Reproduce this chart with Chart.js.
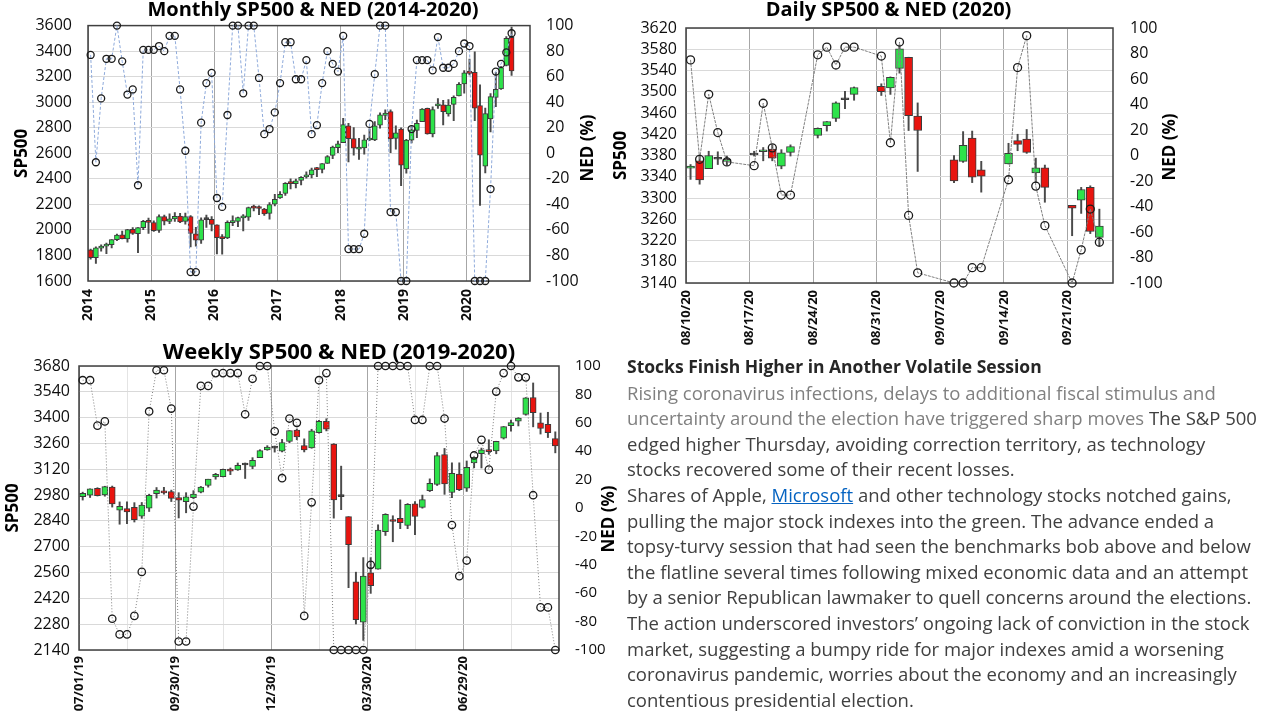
<!DOCTYPE html>
<html>
<head>
<meta charset="utf-8">
<title>SP500 &amp; NED</title>
<script src="https://cdn.jsdelivr.net/npm/chart.js@4.4.1/dist/chart.umd.min.js"></script>
<style>
  html, body { margin:0; padding:0; background:#fff; }
  body { width:1280px; height:720px; position:relative; overflow:hidden; }
  canvas { position:absolute; }
  #text { position:absolute; left:627px; top:354px; z-index:5; font-family:'Open Sans', sans-serif; font-size:18.5px; line-height:25.6px; color:#404040; white-space:nowrap; }
  #text .hd { font-weight:bold; color:#262626; font-size:17.5px; }
  #text .gr { color:#808080; }
  #text a { color:#0563c1; text-decoration:underline; }
</style>
</head>
<body>
<canvas id="monthly" width="626" height="330" style="left:0;top:0"></canvas>
<canvas id="daily" width="680" height="350" style="left:600px;top:0"></canvas>
<canvas id="weekly" width="678" height="385" style="left:0;top:335px"></canvas>
<div id="text">
<div class="hd">Stocks Finish Higher in Another Volatile Session</div>
<div><span class="gr">Rising coronavirus infections, delays to additional fiscal stimulus and</span></div>
<div><span class="gr">uncertainty around the election have triggered sharp moves</span> The S&amp;P 500</div>
<div>edged higher Thursday, avoiding correction territory, as technology</div>
<div>stocks recovered some of their recent losses.</div>
<div>Shares of Apple, <a>Microsoft</a> and other technology stocks notched gains,</div>
<div>pulling the major stock indexes into the green. The advance ended a</div>
<div>topsy-turvy session that had seen the benchmarks bob above and below</div>
<div>the flatline several times following mixed economic data and an attempt</div>
<div>by a senior Republican lawmaker to quell concerns around the elections.</div>
<div>The action underscored investors’ ongoing lack of conviction in the stock</div>
<div>market, suggesting a bumpy ride for major indexes amid a worsening</div>
<div>coronavirus pandemic, worries about the economy and an increasingly</div>
<div>contentious presidential election.</div>
</div>
<script>
// ---------------- Monthly (Jan 2014 - Sep 2020) ----------------
const monthlyTickLabels = ['2014','2015','2016','2017','2018','2019','2020'];
const monthlyOpen = [
  1845,1782,1857,1873,1884,1924,1962,1929,2004,1971,2018,2065,
  2058,1996,2105,2067,2087,2109,2067,2104,1970,1919,2080,2082,
  2039,1937,1937,2057,2067,2094,2100,2174,2171,2164,2129,2201,
  2251,2285,2369,2363,2388,2415,2431,2477,2474,2521,2583,2645,
  2683,2816,2715,2633,2643,2704,2704,2821,2897,2926,2717,2790,
  2477,2702,2780,2848,2952,2751,2971,2980,2909,2983,3050,3144,
  3244,3235,2974,2499,2869,3038,3105,3289,3508];
const monthlyHigh = [
  1850,1867,1883,1897,1924,1968,1991,2005,2019,2018,2076,2093,
  2072,2119,2117,2126,2135,2130,2132,2113,2021,2094,2117,2104,
  2039,1963,2072,2111,2100,2120,2178,2194,2188,2169,2214,2278,
  2301,2371,2401,2398,2418,2454,2484,2491,2519,2582,2657,2695,
  2873,2835,2801,2718,2743,2791,2848,2916,2941,2940,2816,2800,
  2709,2813,2861,2950,2954,2964,3028,3014,3021,3050,3154,3248,
  3337,3394,3137,2955,3068,3234,3280,3514,3588];
const monthlyLow = [
  1770,1737,1834,1814,1859,1915,1930,1905,1964,1821,2001,1972,
  1988,1981,2039,2048,2067,2056,2045,1867,1872,1894,2020,1993,
  1812,1810,1931,2034,2025,1992,2075,2148,2120,2114,2084,2188,
  2246,2271,2322,2329,2353,2405,2407,2417,2446,2520,2557,2605,
  2683,2533,2585,2553,2594,2698,2698,2796,2864,2604,2632,2346,
  2444,2681,2722,2848,2750,2729,2952,2822,2891,2855,3050,3070,
  3214,2855,2192,2447,2767,2966,3101,3285,3209];
const monthlyClose = [
  1783,1859,1872,1884,1924,1960,1931,2003,1972,2018,2068,2059,
  1995,2105,2068,2086,2107,2063,2104,1972,1920,2079,2080,2044,
  1940,1932,2060,2065,2097,2099,2174,2171,2168,2126,2199,2239,
  2279,2364,2363,2384,2412,2423,2470,2472,2519,2575,2648,2674,
  2824,2714,2641,2648,2705,2718,2816,2902,2914,2712,2760,2507,
  2704,2784,2834,2946,2752,2942,2980,2926,2977,3038,3141,3231,
  3226,2954,2585,2912,3044,3100,3271,3500,3246];
const monthlyNED = [
  77,-7,43,74,74,100,72,46,50,-25,81,81,
  81,84,80,92,92,50,2,-93,-93,24,55,63,
  -35,-42,30,100,100,47,100,100,59,15,19,32,
  55,87,87,58,58,73,15,22,55,80,70,64,
  92,-75,-75,-75,-63,23,62,100,100,-46,-46,-100,
  -100,19,73,73,73,65,91,67,67,70,80,86,
  84,-100,-100,-100,-28,64,70,79,94];

// ---------------- Daily (Aug 10 - Sep 24, 2020) ----------------
const dailyTickLabels = ['08/10/20','08/17/20','08/24/20','08/31/20','09/07/20','09/14/20','09/21/20'];
const dailyDates = ['08/10/20','08/11/20','08/12/20','08/13/20','08/14/20','08/17/20','08/18/20','08/19/20','08/20/20','08/21/20',
  '08/24/20','08/25/20','08/26/20','08/27/20','08/28/20','08/31/20','09/01/20','09/02/20','09/03/20','09/04/20',
  '09/08/20','09/09/20','09/10/20','09/11/20','09/14/20','09/15/20','09/16/20','09/17/20','09/18/20','09/21/20',
  '09/22/20','09/23/20','09/24/20'];
const dailyOpen  = [3356,3370,3355,3373,3369,3381,3387,3392,3360,3386,3418,3436,3450,3485,3495,3510,3507,3544,3565,3454,3372,3369,3413,3353,3364,3408,3411,3347,3357,3286,3296,3320,3226];
const dailyHigh  = [3363,3381,3388,3387,3379,3388,3395,3400,3391,3400,3432,3444,3481,3501,3509,3515,3528,3588,3565,3479,3380,3425,3426,3369,3403,3420,3429,3375,3362,3286,3320,3323,3279];
const dailyLow   = [3335,3326,3356,3363,3362,3379,3370,3370,3355,3379,3413,3426,3444,3468,3484,3493,3495,3535,3427,3350,3329,3367,3329,3311,3364,3389,3384,3329,3292,3229,3271,3233,3209];
const dailyClose = [3360,3334,3380,3373,3373,3382,3390,3375,3385,3397,3431,3444,3479,3485,3508,3500,3527,3581,3455,3427,3332,3399,3339,3341,3384,3401,3386,3357,3320,3281,3316,3237,3247];
const dailyNED   = [75,-3,48,18,-5,-8,41,6,-31,-31,79,85,71,85,85,78,10,89,-47,-92,-100,-100,-88,-88,-19,69,94,-24,-55,-100,-74,-42,-68];

// ---------------- Weekly (Jul 1, 2019 - Sep 21, 2020) ----------------
const weeklyTickLabels = ['07/01/19','09/30/19','12/30/19','03/30/20','06/29/20'];
const weeklyOpen = [
  2971,2980,3017,2981,3024,2898,2907,2913,2866,2909,2988,3001,2999,
  2967,2944,2966,2996,3032,3078,3080,3118,3117,3143,3135,3183,3225,
  3240,3218,3271,3333,3248,3236,3318,3380,3257,2974,2863,2509,2291,
  2558,2578,2782,2845,2854,2815,2932,2913,3004,3038,3199,2994,3094,
  3018,3155,3205,3224,3219,3288,3356,3381,3418,3509,3372,3364,3286];
const weeklyHigh = [
  2996,3014,3020,3028,3029,2943,2943,2939,2940,2985,3021,3022,3007,
  2993,2993,3004,3027,3066,3098,3121,3127,3154,3154,3183,3226,3248,
  3246,3282,3330,3338,3285,3337,3385,3394,3259,3137,2863,2562,2641,
  2641,2819,2879,2868,2954,2934,2945,2980,3068,3211,3233,3155,3155,
  3165,3187,3235,3280,3272,3352,3387,3400,3509,3588,3425,3429,3323];
const weeklyLow = [
  2953,2967,2975,2974,2915,2822,2825,2834,2854,2891,2964,2985,2945,
  2856,2884,2960,2992,3023,3066,3078,3091,3114,3070,3123,3183,3223,
  3213,3214,3264,3280,3214,3234,3316,3328,2855,2901,2478,2281,2192,
  2447,2578,2761,2727,2798,2798,2766,2909,2999,3032,2984,2966,3004,
  3000,3128,3127,3201,3204,3284,3326,3355,3413,3350,3311,3292,3209];
const weeklyClose = [
  2990,3014,2977,3026,2932,2919,2889,2847,2926,2979,3007,2992,2962,
  2952,2970,2986,3023,3067,3093,3120,3110,3141,3146,3169,3221,3240,
  3235,3265,3330,3295,3225,3328,3380,3338,2954,2972,2711,2305,2541,
  2489,2790,2875,2837,2831,2930,2864,2955,3044,3194,3041,3098,3009,
  3130,3185,3225,3216,3271,3351,3373,3397,3508,3427,3341,3319,3247];
const weeklyNED = [
  90,90,58,61,-78,-89,-89,-76,-45,68,97,97,70,
  -94,-94,1,86,86,95,95,95,95,66,91,100,100,
  54,21,63,60,-76,4,90,95,-100,-100,-100,-100,-100,
  -40,100,100,100,100,100,62,62,100,100,63,-12,-48,
  -37,37,48,27,82,95,100,92,92,9,-70,-70,-100];

// ---------------- drawing ----------------
const FONT = "'Open Sans', sans-serif";
const GREEN = '#2de34a', RED = '#e8140f', EDGE = '#3b3b3b', TXT = '#0d0d0d';

function parseMDY(s) { const p = s.split('/'); return new Date(2000 + (+p[2]), (+p[0]) - 1, +p[1]); }
const day0 = parseMDY(dailyDates[0]);
const dailyX = dailyDates.map(d => Math.round((parseMDY(d) - day0) / 864e5) + 0.5);
const monthlyX = monthlyOpen.map((_, i) => i + 0.5);
const weeklyX = weeklyOpen.map((_, i) => i + 0.5);

const framePlugin = {
  id: 'frame',
  beforeDatasetsDraw(chart) {
    const {ctx, chartArea: a} = chart;
    ctx.save();
    ctx.strokeStyle = '#404040';
    ctx.lineWidth = 1.5;
    ctx.strokeRect(a.left, a.top, a.right - a.left, a.bottom - a.top);
    ctx.restore();
  },
  afterDraw(chart, args, opts) {
    if (!opts || !opts.text) return;
    const ctx = chart.ctx;
    ctx.save();
    ctx.font = "bold 17px 'Open Sans', sans-serif";
    ctx.fillStyle = '#000';
    ctx.translate(opts.x, opts.y);
    ctx.rotate(-Math.PI / 2);
    ctx.textAlign = 'center';
    ctx.textBaseline = 'middle';
    ctx.fillText(opts.text, 0, 0);
    ctx.restore();
  }
};

function build(id, c) {
  const bodies = c.xs.map((x, i) => ({x, y: [c.open[i], c.close[i]]}));
  const wicks = c.xs.map((x, i) => ({x, y: [c.low[i], c.high[i]]}));
  const ned = c.xs.map((x, i) => ({x, y: c.ned[i]}));
  return new Chart(document.getElementById(id), {
    type: 'bar',
    data: {
      datasets: [
        {type: 'line', label: 'NED (%)', data: ned, yAxisID: 'y2', xAxisID: 'x', order: 0,
         borderColor: c.lineColor, borderWidth: 1, borderDash: c.dash, tension: 0,
         pointRadius: c.pr, pointBorderColor: '#1a1a1a', pointBackgroundColor: 'rgba(0,0,0,0)',
         pointBorderWidth: 1.3, clip: false},
        {label: 'SP500', data: bodies, yAxisID: 'y', xAxisID: 'x', order: 1, grouped: false,
         barThickness: c.bw, minBarLength: 2, borderSkipped: false, borderWidth: 1, borderColor: EDGE,
         backgroundColor: ctx => {
           const i = ctx.dataIndex; if (i === undefined) return GREEN;
           if (Math.abs(c.close[i] - c.open[i]) < c.doji) return EDGE;
           return c.close[i] >= c.open[i] ? GREEN : RED; }},
        {label: 'range', data: wicks, yAxisID: 'y', xAxisID: 'x', order: 2, grouped: false,
         barThickness: 1.3, backgroundColor: '#4a4a4a', borderWidth: 0}
      ]
    },
    options: {
      responsive: false, animation: false, devicePixelRatio: 1,
      layout: {padding: c.padding},
      plugins: {
        legend: {display: false}, tooltip: {enabled: false},
        title: {display: true, text: c.title, color: '#000',
                font: {family: FONT, size: c.titleSize, weight: 'bold', lineHeight: 1},
                padding: {top: c.titleTop, bottom: c.titleBottom}},
        frame: {text: 'NED (%)', x: c.rt.x, y: c.rt.y}
      },
      scales: {
        x: {type: 'linear', min: c.xmin, max: c.xmax, offset: false,
            grid: {offset: false, drawTicks: false, lineWidth: 1,
                   color: ctx => (ctx.tick && c.major(ctx.tick.value)) ? '#a6a6a6' : '#e4e4e4'},
            border: {display: false},
            afterBuildTicks: s => { s.ticks = c.gridX.map(v => ({value: v})); },
            afterFit: s => { s.height = c.xh; },
            ticks: {autoSkip: false, maxRotation: 90, minRotation: 90, padding: c.xpad, color: TXT,
                    font: {family: FONT, size: c.xfs, weight: 'bold'}, callback: v => c.xlabel(v)}},
        y: {position: 'left', min: c.ymin, max: c.ymax,
            grid: {color: '#d9d9d9', drawTicks: false}, border: {display: false},
            ticks: {stepSize: c.ystep, autoSkip: false, padding: c.ypad, color: TXT, font: {family: FONT, size: 16},
                    callback: v => String(Math.round(v))},
            title: {display: true, text: 'SP500', color: '#000', font: {family: FONT, size: 17, weight: 'bold'},
                    padding: {top: c.yTitlePad, bottom: 0}},
            afterFit: s => { s.width = c.yw; }},
        y2: {position: 'right', min: -100, max: 100,
             grid: {drawOnChartArea: false, drawTicks: false}, border: {display: false},
             ticks: {stepSize: 20, autoSkip: false, padding: c.y2pad, color: TXT, font: {family: FONT, size: c.y2fs},
                     callback: v => String(Math.round(v))},
             afterFit: s => { s.width = c.y2w; }}
      }
    },
    plugins: [framePlugin]
  });
}

build('monthly', {
  xs: monthlyX, open: monthlyOpen, high: monthlyHigh, low: monthlyLow, close: monthlyClose, ned: monthlyNED,
  title: 'Monthly SP500 & NED (2014-2020)', titleSize: 20, titleTop: 0, titleBottom: 5,
  padding: {left: 0, right: 0, top: 0, bottom: 0},
  xmin: 0, xmax: 84, gridX: [0, 12, 24, 36, 48, 60, 72], major: v => true,
  xlabel: v => monthlyTickLabels[Math.round(v / 12)] || '', xfs: 14, xpad: 8, xh: 49,
  ymin: 1600, ymax: 3600, ystep: 200, yw: 88, ypad: 16, yTitlePad: 11.5,
  y2w: 96, y2pad: 16, y2fs: 16, rt: {x: 588, y: 148},
  lineColor: '#8eaadb', dash: [3, 2], pr: 3.5, bw: 5, doji: 3
});

build('daily', {
  xs: dailyX, open: dailyOpen, high: dailyHigh, low: dailyLow, close: dailyClose, ned: dailyNED,
  title: 'Daily SP500 & NED (2020)', titleSize: 20, titleTop: 0, titleBottom: 8,
  padding: {left: 0, right: 103, top: 0, bottom: 0},
  xmin: 0, xmax: 47, gridX: [0, 7, 14, 21, 28, 35, 42], major: v => true,
  xlabel: v => dailyTickLabels[Math.round(v / 7)] || '', xfs: 13, xpad: 7, xh: 67,
  ymin: 3140, ymax: 3620, ystep: 40, yw: 86, ypad: 9, yTitlePad: 11,
  y2w: 64, y2pad: 17, y2fs: 16, rt: {x: 570, y: 147},
  lineColor: '#808080', dash: [3, 1], pr: 4, bw: 8, doji: 2
});

build('weekly', {
  xs: weeklyX, open: weeklyOpen, high: weeklyHigh, low: weeklyLow, close: weeklyClose, ned: weeklyNED,
  title: 'Weekly SP500 & NED (2019-2020)', titleSize: 22, titleTop: 7, titleBottom: 2,
  padding: {left: 0, right: 0, top: 0, bottom: 0},
  xmin: 0, xmax: 65, gridX: [0, 6.5, 13, 19.5, 26, 32.5, 39, 45.5, 52, 58.5], major: v => v % 13 === 0,
  xlabel: v => (v % 13 === 0 ? (weeklyTickLabels[v / 13] || '') : ''), xfs: 13, xpad: 6, xh: 70,
  ymin: 2140, ymax: 3680, ystep: 140, yw: 79, ypad: 9, yTitlePad: 3,
  y2w: 119, y2pad: 16, y2fs: 15, rt: {x: 609, y: 184},
  lineColor: '#7f7f7f', dash: [1, 2], pr: 3.7, bw: 6, doji: 8
});
</script>
</body>
</html>
